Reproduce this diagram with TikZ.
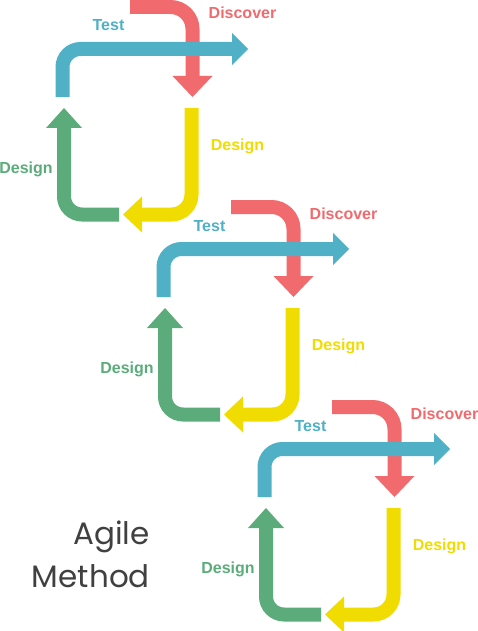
\documentclass[tikz,border=0pt]{standalone}
\usepackage{fontspec}
\setmainfont{Liberation Sans}
\newfontfamily\lblfont{Liberation Sans}
\newfontfamily\titlefont{Poppins}

\begin{document}
\begin{tikzpicture}[x=1pt,y=-1pt,
    band/.style={line width=14pt, rounded corners=20pt},
    lbl/.style={anchor=base, inner sep=0pt, font=\lblfont\bfseries\fontsize{16}{18}\selectfont},
    title/.style={anchor=base east, inner sep=0pt, text=titlegray, font=\titlefont\fontsize{31}{36}\selectfont}]
    \definecolor{discred}{RGB}{241,106,109}
    \definecolor{testblue}{RGB}{80,176,198}
    \definecolor{designyellow}{RGB}{240,220,0}
    \definecolor{designgreen}{RGB}{91,172,122}
    \definecolor{titlegray}{RGB}{64,64,64}

    \useasboundingbox (0,0) rectangle (478,631);

    \begin{scope}
        \draw[band, discred, rounded corners=22pt] (130,7) -| (192.5,78);
        \fill[discred] (172.5,76) -- (212.5,76) -- (192.5,97) -- cycle;
        \draw[band, testblue, rounded corners=18pt] (62.5,97) |- (234,49);
        \fill[testblue] (232,33) -- (248,49) -- (232,65) -- cycle;
        \draw[band, designyellow] (191.5,108) |- (140,214.5);
        \fill[designyellow] (142,196.5) -- (123,214.5) -- (142,232.5) -- cycle;
        \draw[band, designgreen, rounded corners=18pt] (119,214.5) -| (64,126);
        \fill[designgreen] (46,128) -- (64,108) -- (82,128) -- cycle;
        \node[lbl, text=testblue] (test1) at (108.5,31) {Test};
        \node[lbl, text=discred] (disc1) at (242.5,19) {Discover};
        \node[lbl, text=designyellow] (dsgny1) at (237.5,150) {Design};
        \node[lbl, text=designgreen] (dsgng1) at (26,173) {Design};
    \end{scope}

    \begin{scope}[shift={(101,200)}]
        \draw[band, discred, rounded corners=22pt] (130,7) -| (192.5,78);
        \fill[discred] (172.5,76) -- (212.5,76) -- (192.5,97) -- cycle;
        \draw[band, testblue, rounded corners=18pt] (62.5,97) |- (234,49);
        \fill[testblue] (232,33) -- (248,49) -- (232,65) -- cycle;
        \draw[band, designyellow] (191.5,108) |- (140,214.5);
        \fill[designyellow] (142,196.5) -- (123,214.5) -- (142,232.5) -- cycle;
        \draw[band, designgreen, rounded corners=18pt] (119,214.5) -| (64,126);
        \fill[designgreen] (46,128) -- (64,108) -- (82,128) -- cycle;
        \node[lbl, text=testblue] (test2) at (108.5,31) {Test};
        \node[lbl, text=discred] (disc2) at (242.5,19) {Discover};
        \node[lbl, text=designyellow] (dsgny2) at (237.5,150) {Design};
        \node[lbl, text=designgreen] (dsgng2) at (26,173) {Design};
    \end{scope}

    \begin{scope}[shift={(202,400)}]
        \draw[band, discred, rounded corners=22pt] (130,7) -| (192.5,78);
        \fill[discred] (172.5,76) -- (212.5,76) -- (192.5,97) -- cycle;
        \draw[band, testblue, rounded corners=18pt] (62.5,97) |- (234,49);
        \fill[testblue] (232,33) -- (248,49) -- (232,65) -- cycle;
        \draw[band, designyellow] (191.5,108) |- (140,214.5);
        \fill[designyellow] (142,196.5) -- (123,214.5) -- (142,232.5) -- cycle;
        \draw[band, designgreen, rounded corners=18pt] (119,214.5) -| (64,126);
        \fill[designgreen] (46,128) -- (64,108) -- (82,128) -- cycle;
        \node[lbl, text=testblue] (test3) at (108.5,31) {Test};
        \node[lbl, text=discred] (disc3) at (242.5,19) {Discover};
        \node[lbl, text=designyellow] (dsgny3) at (237.5,150) {Design};
        \node[lbl, text=designgreen] (dsgng3) at (26,173) {Design};
    \end{scope}

    \node[title] (agile) at (150,544) {Agile};
    \node[title] (method) at (150,587) {Method};
\end{tikzpicture}
\end{document}
